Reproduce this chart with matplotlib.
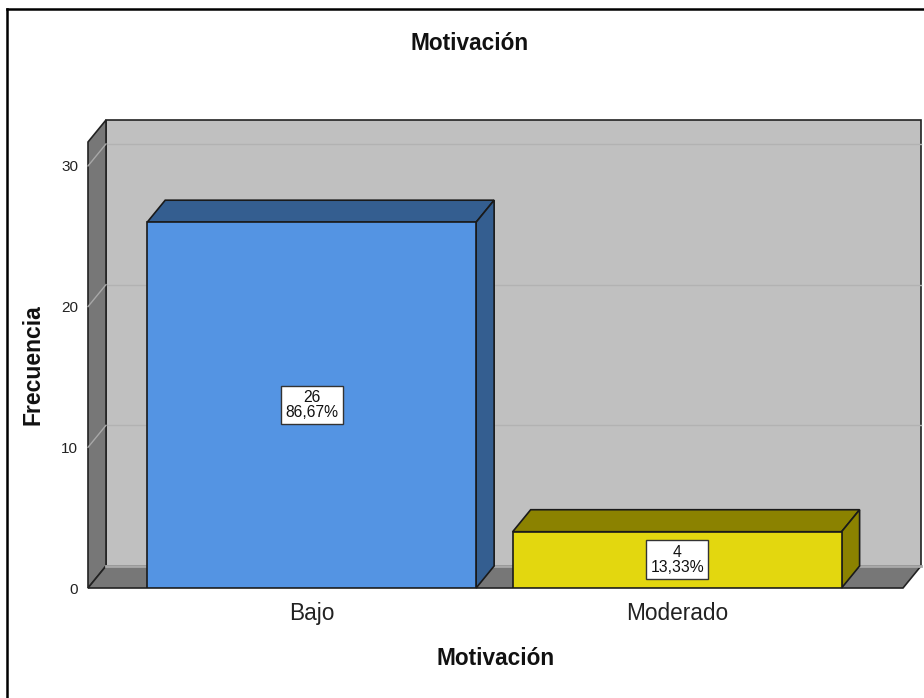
import matplotlib
matplotlib.use("Agg")
import matplotlib.pyplot as plt
from matplotlib.patches import Polygon
from matplotlib.lines import Line2D

plt.rcParams['font.family'] = ['Liberation Sans', 'DejaVu Sans']

# Data
categories = ["Bajo", "Moderado"]
counts = [26, 4]
percents = ["86,67%", "13,33%"]
y_ticks = [0, 10, 20, 30]

front_colors = ["#5494e3", "#e3d70f"]
shade_colors = ["#345e90", "#8b8200"]

W, H, DPI = 924, 698, 100
fig = plt.figure(figsize=(W / DPI, H / DPI), dpi=DPI, facecolor="white")

# front plane of the 3D box, in pixels
left_px, right_px, bottom_px, top_px = 88, 903, 588, 142
ax = fig.add_axes([left_px / W, 1 - bottom_px / H,
                   (right_px - left_px) / W, (bottom_px - top_px) / H])
ax.set_xlim(-0.612, 1.618)
ax.set_ylim(0, 31.7)
ax.set_facecolor("none")
for s in ax.spines.values():
    s.set_visible(False)

# depth of the 3D effect (pixels -> data units)
DX_PX, DY_PX = 18, 22
x_per_px = (ax.get_xlim()[1] - ax.get_xlim()[0]) / (right_px - left_px)
y_per_px = (ax.get_ylim()[1] - ax.get_ylim()[0]) / (bottom_px - top_px)
ddx, ddy = DX_PX * x_per_px, DY_PX * y_per_px

x0, x1 = ax.get_xlim()
y0, y1 = ax.get_ylim()

wall_kw = dict(edgecolor="#222222", linewidth=1.2, clip_on=False, joinstyle="miter")
# back wall
ax.add_patch(Polygon([(x0 + ddx, y0 + ddy), (x1 + ddx, y0 + ddy),
                      (x1 + ddx, y1 + ddy), (x0 + ddx, y1 + ddy)],
                     facecolor="#c0c0c0", zorder=0, **wall_kw))
# left side wall
ax.add_patch(Polygon([(x0, y0), (x0, y1), (x0 + ddx, y1 + ddy), (x0 + ddx, y0 + ddy)],
                     facecolor="#777777", zorder=1, **wall_kw))
# floor
ax.add_patch(Polygon([(x0, y0), (x1, y0), (x1 + ddx, y0 + ddy), (x0 + ddx, y0 + ddy)],
                     facecolor="#777777", zorder=1, **wall_kw))
# light seam where the back wall meets the floor
ax.add_line(Line2D([x0 + ddx, x1 + ddx], [y0 + ddy, y0 + ddy], color="#a9a9a9",
                   linewidth=2.0, zorder=1.2, clip_on=False))

# gridlines on back wall and side wall
for t in y_ticks[1:]:
    ax.add_line(Line2D([x0 + ddx, x1 + ddx], [t + ddy, t + ddy], color="#b2b2b2",
                       linewidth=1.0, zorder=0.5, clip_on=False))
    ax.add_line(Line2D([x0, x0 + ddx], [t, t + ddy], color="#a8a8a8",
                       linewidth=1.0, zorder=1.5, clip_on=False))

# bars
bw = 0.9
xs = list(range(len(categories)))
ax.bar(xs, counts, width=bw, color=front_colors, edgecolor="#1a1a1a",
       linewidth=1.2, zorder=4)
for i, (x, h) in enumerate(zip(xs, counts)):
    bl, br = x - bw / 2, x + bw / 2
    ax.add_patch(Polygon([(bl, h), (br, h), (br + ddx, h + ddy), (bl + ddx, h + ddy)],
                         facecolor=shade_colors[i], edgecolor="#1a1a1a", linewidth=1.2,
                         zorder=3, clip_on=False))
    ax.add_patch(Polygon([(br, 0), (br, h), (br + ddx, h + ddy), (br + ddx, ddy)],
                         facecolor=shade_colors[i], edgecolor="#1a1a1a", linewidth=1.2,
                         zorder=3, clip_on=False))
    ax.text(x, h / 2, f"{h}\n{percents[i]}", ha="center", va="center",
            fontsize=11.3, linespacing=1.0, color="#111111", zorder=6,
            bbox=dict(boxstyle="square,pad=0.28", facecolor="white",
                      edgecolor="#333333", linewidth=1.0))

# axes ticks and labels
ax.set_yticks(y_ticks)
ax.set_yticklabels([str(t) for t in y_ticks])
ax.tick_params(axis="y", length=0, pad=7, labelsize=11, labelcolor="#222222")
ax.set_xticks(xs)
ax.set_xticklabels(categories)
ax.tick_params(axis="x", length=0, pad=10, labelsize=16.3, labelcolor="#222222")
ax.set_xlabel("Motivación", fontsize=16.3, fontweight="bold", labelpad=16, color="#111111")
ax.set_ylabel("Frecuencia", fontsize=16.5, fontweight="bold", labelpad=12, color="#111111")

fig.text(470 / W, 1 - 43 / H, "Motivación", ha="center", va="center",
         fontsize=16.3, fontweight="bold", color="#111111")

# outer frame
fig.add_artist(Line2D([7 / W, 7 / W], [0, 1 - 9 / H], transform=fig.transFigure,
                      color="black", linewidth=1.8))
fig.add_artist(Line2D([7 / W, 1], [1 - 9 / H, 1 - 9 / H], transform=fig.transFigure,
                      color="black", linewidth=1.8))

fig.savefig("out.png", dpi=DPI, facecolor="white")
